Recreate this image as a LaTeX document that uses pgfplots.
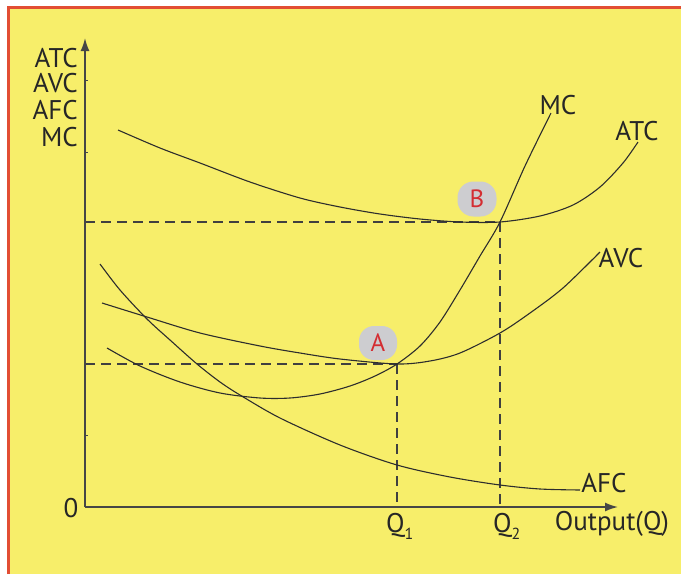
\documentclass[border=0pt]{standalone}
\usepackage{pgfplots}
\pgfplotsset{compat=1.18}
\usepackage{fontspec}
\setmainfont{PT Sans}
\usetikzlibrary{arrows.meta}
\definecolor{bgyellow}{RGB}{247,238,106}
\definecolor{frame}{RGB}{226,78,52}
\definecolor{curve}{RGB}{45,45,45}
\definecolor{axiscol}{RGB}{70,70,70}
\definecolor{badge}{RGB}{205,205,208}
\definecolor{badgetxt}{RGB}{212,45,50}
\newcommand{\sub}[1]{\raisebox{-0.55ex}{\fontsize{16}{16}\selectfont #1}}
\begin{document}
\begin{tikzpicture}
\begin{axis}[
  width=681pt, height=574pt, scale only axis,
  xmin=0, xmax=681, ymin=0, ymax=574, y dir=reverse,
  hide axis, clip=false,
]
\coordinate (C1) at (rel axis cs:0,0);
\coordinate (C2) at (rel axis cs:1,1);
% background and frame
\fill[white] (0,0) rectangle (681,574);
\fill[bgyellow] (8,7) rectangle (681,574);
\draw[frame, line width=3pt] (8,574) -- (8,7) -- (681,7);

% dashed guides
\addplot[black!75, line width=2.2pt, dash pattern=on 10pt off 6pt] coordinates {(85,222) (500,222)};
\addplot[black!75, line width=2.2pt, dash pattern=on 10pt off 6pt] coordinates {(500,222) (500,507)};
\addplot[black!75, line width=2.2pt, dash pattern=on 10pt off 6pt] coordinates {(85,364) (397,364)};
\addplot[black!75, line width=2.2pt, dash pattern=on 10pt off 6pt] coordinates {(397,364) (397,507)};

% curves
% MC
\addplot[curve, line width=1.1pt, smooth] coordinates {
(107,348) (140,366) (180,382) (220,393) (260,398) (290,398) (320,394) (350,386) (375,376) (397,364) (420,346) (440,322) (460,290) (480,256) (500,222) (525,166) (551,113)};
% ATC
\addplot[curve, line width=1.1pt, smooth] coordinates {
(118,130) (160,148) (200,163) (250,182) (300,198) (340,207) (380,214) (420,219) (460,222) (500,222) (540,216) (573,205) (600,187) (623,163) (638,142)};
% AVC
\addplot[curve, line width=1.1pt, smooth] coordinates {
(102,303) (147,317) (200,333) (260,346) (300,353) (340,359) (397,364) (430,361) (460,353) (500,333) (530,313) (563,288) (600,252)};
% AFC
\addplot[curve, line width=1.1pt, smooth] coordinates {
(100,264) (120,290) (147,319) (170,340) (197,364) (220,382) (240,395) (280,418) (340,445) (397,465) (450,477) (500,485) (540,489) (580,490)};

% axes
\draw[axiscol, line width=1.6pt, -{Latex[length=13pt,width=9pt]}] (85,507) -- (85,38);
\draw[axiscol, line width=1.6pt, -{Latex[length=13pt,width=9pt]}] (85,507) -- (618,507);
\draw[axiscol, line width=1pt] (85,80) -- (88,80) (85,152) -- (88,152) (85,435) -- (88,435);

% labels
\begin{scope}[every node/.style={font=\fontsize{27}{29}\selectfont, text=black!85, inner sep=0pt}]
\node[anchor=east] at (78,58) {ATC};
\node[anchor=east] at (78,83) {AVC};
\node[anchor=east] at (78,110) {AFC};
\node[anchor=east] at (78,137) {MC};
\node at (71,508) {0};
\node at (558,105) {MC};
\node at (637,131) {ATC};
\node at (621,258) {AVC};
\node at (604,483) {AFC};
\node[anchor=base west] at (386,532) {Q\sub{1}};
\node[anchor=base west] at (493,532) {Q\sub{2}};
\node at (612,524) {Output(Q)};
\end{scope}

% badges
\node[fill=badge, rounded corners=15pt, minimum width=38pt, minimum height=34pt, inner sep=0pt, text=badgetxt, font=\fontsize{25}{27}\selectfont] at (378,343) {A};
\node[fill=badge, rounded corners=16pt, minimum width=39pt, minimum height=35pt, inner sep=0pt, text=badgetxt, font=\fontsize{25}{27}\selectfont] at (477,199) {B};
\end{axis}
\pgfresetboundingbox
\useasboundingbox (C1) rectangle (C2);
\end{tikzpicture}
\end{document}
